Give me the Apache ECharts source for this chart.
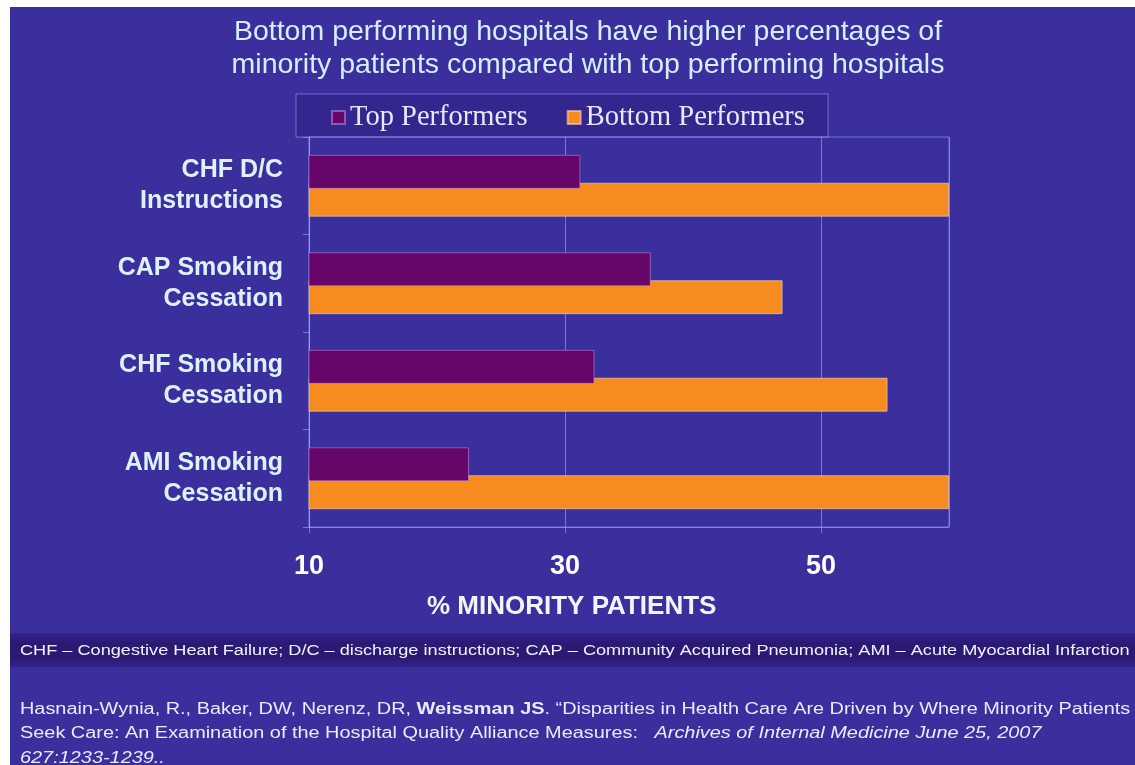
<!DOCTYPE html>
<html>
<head>
<meta charset="utf-8">
<script src="https://cdn.jsdelivr.net/npm/echarts@6/dist/echarts.min.js"></script>
<style>
  html, body { margin: 0; padding: 0; background: #ffffff; }
  #slide { position: absolute; left: 10px; top: 7px; width: 1125px; height: 758px; background: #3a2f9c; }
  #band { position: absolute; left: 10px; top: 633px; width: 1125px; height: 34px;
          background: linear-gradient(to bottom, #33248a 0%, #2b1a74 30%, #2b1a74 70%, #33248a 100%); }
  #chart { position: absolute; left: 0; top: 0; width: 1135px; height: 765px; }
</style>
</head>
<body>
<div id="slide"></div>
<div id="band"></div>
<div id="chart"></div>
<script>
// Quality measures (two-line labels) and % minority patients per hospital group
const categories = ['CHF D/C\nInstructions', 'CAP Smoking\nCessation', 'CHF Smoking\nCessation', 'AMI Smoking\nCessation'];
const topPerformers = [31.2, 36.7, 32.3, 22.5];
const bottomPerformers = [60, 47.0, 55.2, 60];
const seriesNames = ['Top Performers', 'Bottom Performers'];
const axisMin = 10;
const axisMax = 60;
const axisStep = 20;

const titleLines = [
  'Bottom performing hospitals have higher percentages of',
  'minority patients compared with top performing hospitals'
];
const axisTitle = '% MINORITY PATIENTS';
const abbreviations = 'CHF \u2013 Congestive Heart Failure; D/C \u2013 discharge instructions; CAP \u2013 Community Acquired Pneumonia; AMI \u2013 Acute Myocardial Infarction';

const lineColor = 'rgba(165,175,255,0.55)';
const labelColor = '#def1ff';
const sans = 'Liberation Sans, Arial, sans-serif';

const chart = echarts.init(document.getElementById('chart'), null, { renderer: 'canvas' });

chart.setOption({
  backgroundColor: 'transparent',
  animation: false,
  title: {
    text: titleLines.join('\n'),
    left: 583,
    textAlign: 'center',
    top: 11,
    textStyle: {
      color: '#d6eeff',
      fontFamily: sans,
      fontWeight: 'normal',
      fontSize: 28.5,
      lineHeight: 33
    }
  },
  legend: {
    data: seriesNames,
    left: 326,
    top: 98,
    orient: 'horizontal',
    icon: 'rect',
    itemWidth: 13,
    itemHeight: 13,
    itemGap: 39,
    textStyle: {
      color: '#e6e9ff',
      fontFamily: 'Liberation Serif, Times New Roman, serif',
      fontSize: 28.5
    }
  },
  grid: {
    left: 309,
    right: 186,
    top: 137,
    bottom: 238,
    show: true,
    borderColor: lineColor,
    borderWidth: 1
  },
  xAxis: {
    type: 'value',
    min: axisMin,
    max: axisMax,
    interval: axisStep,
    axisLine: { show: true, lineStyle: { color: lineColor } },
    axisTick: { show: true, length: 6, lineStyle: { color: lineColor } },
    splitLine: { show: true, lineStyle: { color: lineColor, width: 1 } },
    axisLabel: {
      showMaxLabel: false,
      margin: 26,
      color: '#ffffff',
      fontFamily: sans,
      fontWeight: 'bold',
      fontSize: 27
    }
  },
  yAxis: {
    type: 'category',
    inverse: true,
    data: categories,
    axisLine: { show: true, lineStyle: { color: lineColor } },
    axisTick: { show: true, length: 6, lineStyle: { color: lineColor } },
    axisLabel: {
      margin: 26,
      color: labelColor,
      align: 'right',
      fontFamily: sans,
      fontWeight: 'bold',
      fontSize: 25,
      lineHeight: 31
    }
  },
  series: [
    {
      name: seriesNames[0],
      type: 'bar',
      data: topPerformers,
      barWidth: 34,
      barGap: '-18%',
      z: 3,
      itemStyle: { color: '#650668', borderColor: 'rgba(200,140,220,0.55)', borderWidth: 1 }
    },
    {
      name: seriesNames[1],
      type: 'bar',
      data: bottomPerformers,
      barWidth: 34,
      z: 2,
      itemStyle: { color: '#f68c1f', borderColor: 'rgba(255,215,190,0.6)', borderWidth: 1 }
    }
  ],
  graphic: [
    {
      type: 'rect',
      z: -1,
      shape: { x: 296, y: 94, width: 532, height: 43 },
      style: { fill: '#33268f', stroke: 'rgba(150,160,240,0.6)', lineWidth: 1 }
    },
    {
      type: 'text',
      left: 427,
      top: 594,
      style: {
        text: axisTitle,
        fill: '#f2f4ff',
        font: 'bold 26px "Liberation Sans", Arial, sans-serif'
      }
    },
    {
      type: 'text',
      x: 20,
      y: 643,
      scaleX: 1.171,
      style: {
        text: abbreviations,
        fill: '#f0f2ff',
        verticalAlign: 'top',
        font: '15.5px "Liberation Sans", Arial, sans-serif'
      }
    },
    {
      type: 'text',
      x: 20,
      y: 697,
      scaleX: 1.243,
      style: {
        text: '{n|Hasnain-Wynia, R., Baker, DW, Nerenz, DR, }{b|Weissman JS}{n|. \u201cDisparities in Health Care Are Driven by Where Minority Patients}\n' +
              '{n|Seek Care: An Examination of the Hospital Quality Alliance Measures:   }{i|Archives of Internal Medicine June 25, 2007}\n' +
              '{i|627:1233-1239..}',
        fill: '#e9ecff',
        verticalAlign: 'top',
        rich: {
          n: { fontSize: 16, fontFamily: sans, color: '#e9ecff', lineHeight: 24.5 },
          b: { fontSize: 16, fontWeight: 'bold', fontFamily: sans, color: '#ffffff', lineHeight: 24.5 },
          i: { fontSize: 16, fontStyle: 'italic', fontFamily: sans, color: '#e9ecff', lineHeight: 24.5 }
        }
      }
    }
  ]
});
</script>
</body>
</html>
